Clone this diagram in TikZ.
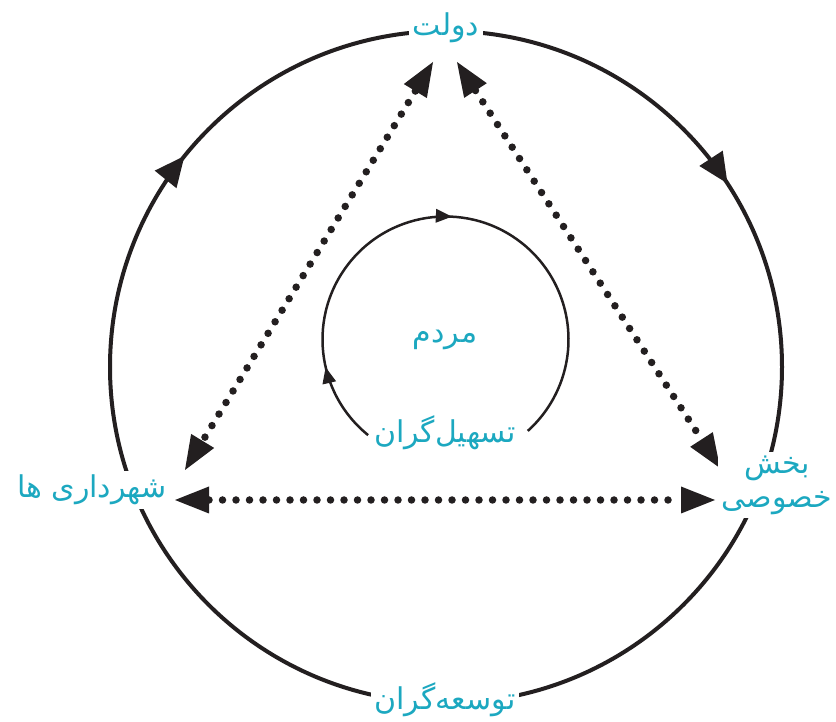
\documentclass[tikz,border=0pt]{standalone}
\usepackage{fontspec}
\newfontfamily\arabicfont[Script=Arabic]{DejaVu Sans}
\TeXXeTstate=1
\usetikzlibrary{arrows.meta,decorations.markings}
\definecolor{teal1}{RGB}{28,168,192}
\definecolor{ink}{RGB}{35,31,32}
\begin{document}
\begin{tikzpicture}[x=1pt,y=1pt,
  lbl/.style={text=teal1,font=\arabicfont\fontsize{30}{34}\selectfont,fill=white,inner sep=4pt},
  inlbl/.style={text=teal1,font=\arabicfont\fontsize{30}{34}\selectfont,inner sep=2pt},
  bigring/.style={draw=ink,line width=4pt},
  ring/.style={draw=ink,line width=2.5pt},
  dotline/.style={draw=ink,line width=7.5pt,line cap=round,dash pattern=on 0pt off 13.5pt,
    {Triangle[length=34pt,width=27pt,line width=0pt]}-{Triangle[length=34pt,width=27pt,line width=0pt]}}]
\useasboundingbox (0,0) rectangle (836,721);
\fill[white] (0,0) rectangle (836,721);
\coordinate (C) at (446,354);
\coordinate (c) at (445.5,381.5);
% outer ring
\draw[bigring,postaction={decorate},decoration={markings,
  mark=at position 0.158 with {\arrow[ink]{Triangle[length=30pt,width=28pt,line width=0pt]}},
  mark=at position 0.858 with {\arrow[ink]{Triangle[length=30pt,width=28pt,line width=0pt]}}}]
  (C) ++(90:336) arc[start angle=90,end angle=-270,radius=336];
% inner ring
\draw[ring,postaction={decorate},decoration={markings,
  mark=at position 0.136 with {\arrow[ink]{Triangle[length=16pt,width=14pt,line width=0pt]}},
  mark=at position 0.516 with {\arrow[ink]{Triangle[length=16pt,width=14pt,line width=0pt]}}}]
  (c) ++(231:123) arc[start angle=231,end angle=-48,radius=123];
% dotted connectors
\coordinate (tl) at (433,659);
\coordinate (bl) at (185,251);
\coordinate (tr) at (457,659);
\coordinate (br) at (720,253);
\coordinate (hl) at (175,221);
\coordinate (hr) at (715,221);
\draw[dotline] (tl) -- (bl);
\draw[dotline] (tr) -- (br);
\draw[dotline] (hl) -- (hr);
% labels
\node[lbl] (dolat) at (446,693) {\beginR دولت\endR};
\node[lbl] (shahr) at (92,231) {\beginR شهرداری ها\endR};
\node[lbl,align=center] (bakhsh) at (777,236) {\beginR بخش\endR\\\beginR خصوصی\endR};
\node[inlbl] (mardom) at (445,381) {\beginR مردم\endR};
\node[lbl] (tashil) at (445,288) {\beginR تسهیل‌گران\endR};
\node[lbl] (tosee) at (445,21) {\beginR توسعه‌گران\endR};
\end{tikzpicture}
\end{document}
